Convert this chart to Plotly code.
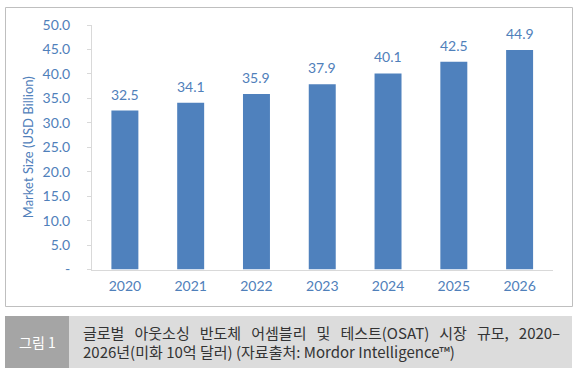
import plotly.graph_objects as go

years = ["2020", "2021", "2022", "2023", "2024", "2025", "2026"]
market_size = [32.5, 34.1, 35.9, 37.9, 40.1, 42.5, 44.9]
ytick_vals = [0, 5, 10, 15, 20, 25, 30, 35, 40, 45, 50]
ytick_text = ["-", "5.0", "10.0", "15.0", "20.0", "25.0", "30.0", "35.0", "40.0", "45.0", "50.0"]
y_title = "Market Size (USD Billion)"
fig_label = "그림 1"
caption_line1 = "글로벌 아웃소싱 반도체 어셈블리 및 테스트(OSAT) 시장 규모, 2020–"
caption_line2 = "2026년(미화 10억 달러) (자료출처: Mordor Intelligence™)"

W, H = 581, 374
def px(x): return x / W
def py(y): return (H - y) / H

blue = "#4F81BD"
txt_blue = "#5080BA"
font_chart = "Lato, Open Sans, sans-serif"

fig = go.Figure(go.Bar(
    x=years, y=market_size, width=0.41,
    marker=dict(color=blue, line=dict(width=0)),
    hoverinfo="skip",
))

# data labels above the bars (x given as category index)
for i, v in enumerate(market_size):
    fig.add_annotation(x=i, y=v, xref="x", yref="y", text=f"{v:.1f}",
                       showarrow=False, yanchor="bottom", yshift=6,
                       font=dict(color=txt_blue, size=14, family=font_chart))

fig.update_layout(
    width=W, height=H, margin=dict(l=0, r=0, t=0, b=0, autoexpand=False),
    paper_bgcolor="white", plot_bgcolor="white", showlegend=False,
    xaxis=dict(type="category", range=[-0.5, len(years) - 0.5],
               domain=[px(92), px(552.5)], showline=True, linecolor="#D9D9D9",
               linewidth=1, ticks="", showgrid=False, automargin=False,
               ticklabelstandoff=4,
               tickfont=dict(color=txt_blue, size=14, family=font_chart),
               anchor="y"),
    yaxis=dict(domain=[py(269.5), py(25)], range=[0, 50], tickvals=ytick_vals,
               ticktext=ytick_text, showline=True, linecolor="#D9D9D9", linewidth=1,
               ticks="outside", ticklen=4, tickcolor="#D9D9D9", showgrid=False,
               zeroline=False, automargin=False, ticklabelstandoff=14,
               tickfont=dict(color=txt_blue, size=14, family=font_chart),
               title=dict(text=y_title, font=dict(color=txt_blue, size=13, family=font_chart),
                          standoff=5)),
)

shapes = [
    dict(type="rect", xref="paper", yref="paper", x0=px(5.5), x1=px(572.5), y0=py(306.5), y1=py(7.5),
         line=dict(color="#BFBFBF", width=1), fillcolor="rgba(0,0,0,0)", layer="below"),
    dict(type="rect", xref="paper", yref="paper", x0=px(69), x1=px(572), y0=py(368), y1=py(316),
         line=dict(width=0), fillcolor="#DCDCDC", layer="below"),
    dict(type="rect", xref="paper", yref="paper", x0=px(5), x1=px(69), y0=py(368), y1=py(316),
         line=dict(width=0), fillcolor="#A5A5A5", layer="below"),
]
fig.update_layout(shapes=shapes)

cap_font = "Noto Sans CJK KR, sans-serif"
fig.add_annotation(x=px(37), y=py(342), xref="paper", yref="paper", text=fig_label,
                   showarrow=False, font=dict(color="white", size=14, family=cap_font),
                   xanchor="center", yanchor="middle")
fig.add_annotation(x=px(81), y=py(332), xref="paper", yref="paper",
                   text=caption_line1.replace(" ", "&nbsp;&nbsp; "),
                   showarrow=False, font=dict(color="#333333", size=15, family=cap_font),
                   xanchor="left", yanchor="middle")
fig.add_annotation(x=px(81), y=py(351), xref="paper", yref="paper", text=caption_line2,
                   showarrow=False, font=dict(color="#333333", size=15, family=cap_font),
                   xanchor="left", yanchor="middle")

fig.write_html("out.html", post_script="document.body.style.margin='0';",
               config={"displayModeBar": False})
